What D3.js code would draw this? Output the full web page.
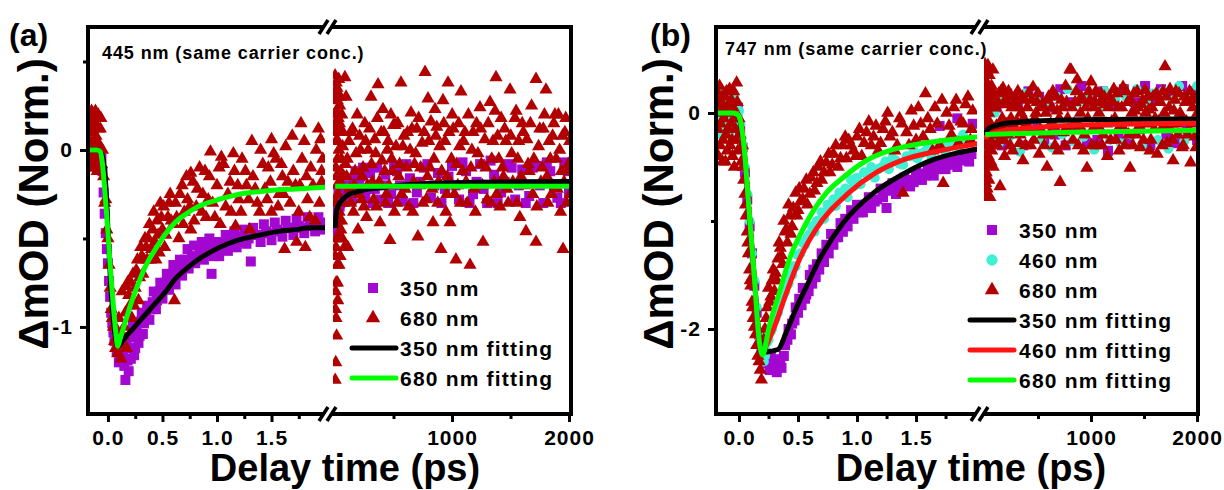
<!DOCTYPE html>
<html>
<head>
<meta charset="utf-8">
<script src="https://cdn.jsdelivr.net/npm/d3@7"></script>
<style>
body{margin:0;background:#fff}
svg{display:block;font-family:"Liberation Sans",Arial,sans-serif;font-weight:bold}
</style>
</head>
<body>
<svg id="chart" width="1224" height="490"></svg>
<script>
// ---- panel (a): 445 nm ----  [time (ps), dOD (norm.)]
var a350L = [[-0.17,-0.04],[-0.15,0.01],[-0.13,-0.06],[-0.11,-0.02],[-0.09,-0.08],[-0.07,-0.03],[-0.05,-0.12],[-0.04,-0.24],[-0.03,-0.36],[-0.02,-0.47],[-0.01,-0.56],[0.0,-0.64],[0.01,-0.74],[0.02,-0.83],[0.03,-0.92],[0.04,-0.98],[0.05,-1.03],[0.07,-1.08],[0.09,-1.12],[0.11,-1.16],[0.13,-1.1],[0.15,-1.22],[0.16,-1.3],[0.18,-1.19],[0.2,-1.12],[0.22,-1.06],[0.24,-1.16],[0.26,-1.02],[0.28,-1.09],[0.3,-0.97],[0.32,-1.04],[0.35,-0.92],[0.38,-0.96],[0.41,-0.86],[0.44,-0.9],[0.47,-0.8],[0.5,-0.84],[0.53,-0.75],[0.56,-0.79],[0.59,-0.7],[0.62,-0.76],[0.65,-0.66],[0.68,-0.71],[0.71,-0.62],[0.74,-0.67],[0.77,-0.6],[0.8,-0.64],[0.84,-0.57],[0.88,-0.62],[0.92,-0.55],[0.95,-0.7],[0.98,-0.55],[1.02,-0.6],[1.06,-0.52],[1.1,-0.57],[1.14,-0.5],[1.18,-0.55],[1.22,-0.49],[1.27,-0.53],[1.31,-0.63],[1.35,-0.48],[1.4,-0.52],[1.45,-0.46],[1.5,-0.51],[1.55,-0.45],[1.6,-0.49],[1.65,-0.44],[1.7,-0.48],[1.75,-0.43],[1.8,-0.47],[1.85,-0.42],[1.9,-0.46],[1.95,-0.41],[1.97,-0.45],
  [-0.16,-0.08],[-0.12,0.0],[-0.08,-0.1],[-0.06,-0.05],[0.06,-1.08],[0.08,-1.14],[0.1,-1.2],[0.12,-1.18],[0.14,-1.14],[0.17,-1.1],[0.19,-1.25],[0.21,-1.18],[0.23,-1.0],[0.25,-1.12],[0.27,-0.98],[0.29,-1.05],[0.31,-0.92],[0.33,-0.98],[0.36,-0.88],[0.39,-0.9],[0.42,-0.8],[0.45,-0.85],[0.48,-0.75],[0.51,-0.78],[0.54,-0.7],[0.57,-0.73],[0.6,-0.65],[0.63,-0.7],[0.66,-0.62],[0.7,-0.66],[0.73,-0.56],[0.76,-0.62],[0.79,-0.54],[0.83,-0.6],[0.86,-0.52],[0.9,-0.58],[0.93,-0.5],[0.97,-0.6],[1.0,-0.52],[1.04,-0.56],[1.08,-0.48],[1.12,-0.54],[1.16,-0.46],[1.2,-0.52],[1.25,-0.45],[1.29,-0.5],[1.33,-0.44],[1.38,-0.48],[1.43,-0.42],[1.48,-0.47],[1.53,-0.41],[1.58,-0.46],[1.63,-0.4],[1.68,-0.44],[1.73,-0.39],[1.78,-0.44],[1.83,-0.38],[1.88,-0.43],[1.93,-0.38]];
var a680L = [[-0.18,0.2],[-0.17,0.05],[-0.16,-0.1],[-0.15,0.22],[-0.14,0.12],[-0.13,-0.05],[-0.12,0.15],[-0.11,0.08],[-0.1,-0.12],[-0.09,0.2],[-0.08,0.03],[-0.07,0.12],[-0.06,-0.08],[-0.05,0.0],[-0.04,-0.15],[-0.03,-0.3],[-0.02,-0.28],[-0.01,-0.45],[0.0,-0.5],[0.01,-0.65],[0.02,-0.78],[0.03,-0.9],[0.04,-0.95],[0.05,-1.0],[0.06,-1.08],[0.07,-1.12],[0.09,-1.15],[0.1,-0.95],[0.12,-1.18],[0.13,-0.8],[0.14,-1.05],[0.16,-0.92],[0.165,-0.77],[0.17,-1.12],[0.18,-0.75],[0.2,-0.88],[0.22,-0.95],[0.23,-0.7],[0.25,-0.78],[0.27,-0.62],[0.28,-0.85],[0.3,-0.55],[0.32,-0.7],[0.34,-0.5],[0.36,-0.62],[0.38,-0.42],[0.4,-0.56],[0.42,-0.35],[0.44,-0.62],[0.46,-0.48],[0.48,-0.3],[0.5,-0.45],[0.52,-0.55],[0.55,-0.38],[0.57,-0.25],[0.6,-0.42],[0.61,-0.85],[0.62,-0.3],[0.65,-0.5],[0.68,-0.2],[0.7,-0.35],[0.73,-0.28],[0.76,-0.45],[0.76,-0.13],[0.78,-0.18],[0.81,-0.32],[0.84,-0.1],[0.87,-0.25],[0.9,-0.38],[0.93,-0.15],[0.94,-0.01],[0.96,-0.3],[1.0,-0.2],[1.03,-0.42],[1.04,-0.04],[1.06,-0.08],[1.1,-0.25],[1.13,-0.35],[1.16,-0.12],[1.17,-0.43],[1.2,-0.28],[1.23,-0.05],[1.27,-0.2],[1.3,-0.45],[1.33,-0.15],[1.37,-0.3],[1.4,0.0],[1.44,-0.22],[1.47,-0.1],[1.5,0.06],[1.5,-0.35],[1.54,-0.05],[1.57,-0.25],[1.6,-0.15],[1.62,-0.56],[1.63,0.02],[1.67,-0.3],[1.7,-0.12],[1.73,-0.52],[1.76,-0.2],[1.77,0.15],[1.8,0.05],[1.81,-0.55],[1.83,-0.28],[1.86,-0.1],[1.9,-0.4],[1.93,0.12],[1.95,0.06],[1.96,-0.18],[1.97,-0.05],
  [-0.175,0.1],[-0.165,-0.02],[-0.155,0.15],[-0.145,0.0],[-0.135,0.2],[-0.125,-0.1],[-0.115,0.22],[-0.105,0.05],[-0.095,-0.05],[-0.085,0.12],[-0.075,-0.12],[-0.065,0.18],[0.085,-1.02],[0.11,-1.1],[0.15,-1.0],[0.19,-0.82],[0.21,-0.75],[0.24,-0.88],[0.26,-0.68],[0.29,-0.72],[0.31,-0.6],[0.33,-0.62],[0.35,-0.55],[0.37,-0.5],[0.39,-0.62],[0.41,-0.45],[0.43,-0.52],[0.45,-0.4],[0.47,-0.58],[0.49,-0.38],[0.51,-0.32],[0.53,-0.48],[0.56,-0.3],[0.58,-0.4],[0.63,-0.38],[0.66,-0.25],[0.69,-0.42],[0.72,-0.15],[0.75,-0.32],[0.79,-0.4],[0.82,-0.22],[0.86,-0.35],[0.89,-0.12],[0.92,-0.28],[0.98,-0.38],[1.02,-0.1],[1.08,-0.32],[1.12,-0.18],[1.15,-0.02],[1.19,-0.2],[1.22,-0.35],[1.26,-0.12],[1.29,-0.28],[1.32,0.05],[1.35,-0.22],[1.39,-0.35],[1.42,-0.08],[1.46,-0.28],[1.49,-0.18],[1.52,-0.02],[1.56,-0.32],[1.59,-0.08],[1.61,-0.25],[1.65,-0.18],[1.69,0.08],[1.72,-0.2],[1.75,-0.35],[1.78,-0.05],[1.82,-0.15],[1.85,-0.38],[1.88,-0.2],[1.91,0.0],[1.94,-0.3],[1.96,-0.12]];
var a350R = [[2,-0.42],[5,-0.38],[8,-0.46],[12,-0.33],[16,-0.4],[20,-0.3],[26,-0.35],[32,-0.27],[40,-0.32],[50,-0.24],[60,-0.29],[75,-0.22],[90,-0.27],[110,-0.2],[130,-0.25],[160,-0.17],[190,-0.24],[220,-0.15],[260,-0.27],[300,-0.13],[340,-0.22],[380,-0.28],[430,-0.14],[480,-0.25],[530,-0.12],[580,-0.29],[640,-0.16],[700,-0.24],[760,-0.1],[820,-0.27],[880,-0.13],[940,-0.22],[1000,-0.09],[1060,-0.28],[1120,-0.12],[1180,-0.25],[1240,-0.08],[1300,-0.3],[1360,-0.14],[1420,-0.24],[1480,-0.08],[1540,-0.28],[1600,-0.11],[1660,-0.26],[1720,-0.09],[1780,-0.3],[1840,-0.12],[1900,-0.27],[1960,-0.07],[2000,-0.24],
  [3,-0.36],[10,-0.42],[14,-0.3],[22,-0.38],[30,-0.25],[45,-0.3],[55,-0.2],[68,-0.26],[100,-0.22],[145,-0.28],[175,-0.12],[205,-0.2],[240,-0.1],[280,-0.22],[320,-0.3],[360,-0.1],[405,-0.2],[455,-0.3],[505,-0.09],[555,-0.2],[610,-0.08],[670,-0.3],[730,-0.18],[790,-0.08],[850,-0.2],[910,-0.3],[970,-0.15],[1030,-0.2],[1090,-0.07],[1150,-0.3],[1210,-0.18],[1270,-0.22],[1330,-0.06],[1390,-0.3],[1450,-0.18],[1510,-0.1],[1570,-0.2],[1630,-0.3],[1690,-0.1],[1750,-0.2],[1810,-0.07],[1870,-0.2],[1930,-0.3],[1990,-0.12]];
var a680R = [[1,0.42],[2,-1.3],[3,0.2],[4,-0.9],[5,-0.3],[6,0.33],[7,-1.2],[8,-0.55],[9,0.05],[10,-0.75],[11,0.38],[12,-0.15],[14,-1.05],[15,0.12],[16,-0.42],[18,-0.65],[20,0.28],[22,-0.05],[24,-0.85],[26,-0.25],[28,0.18],[30,-0.5],[33,0.0],[36,-0.35],[40,0.25],[44,-0.6],[48,-0.12],[52,0.1],[56,-0.4],[60,-0.2],[65,0.02],[70,-0.3],[80,-0.55],[85,0.41],[90,-0.08],
  [1.5,-0.6],[2.5,0.1],[3.5,-0.4],[4.5,0.3],[5.5,-0.8],[6.5,-0.1],[7.5,0.15],[8.5,-0.3],[9.5,-0.95],[10.5,0.22],[13,-0.5],[17,0.35],[19,-0.2],[21,-0.75],[25,0.05],[29,-0.4],[32,0.4],[35,-0.65],[38,0.15],[42,-0.2],[46,0.3],[50,-0.45],[54,-0.05],[58,0.2],[62,-0.5],[68,0.1],[75,-0.15],[95,0.3],
  [100,-0.15],[110,-0.55],[120,0.05],[135,-0.3],[150,0.12],[165,-0.2],[180,-0.02],[197,-0.45],[210,0.08],[225,-0.28],[240,-0.1],[255,0.15],[270,-0.38],[285,0.0],[308,0.3],[320,-0.18],[340,0.06],[355,-0.32],[368,0.37],[385,-0.41],[395,0.1],[410,0.23],[425,-0.12],[440,-0.25],[455,0.05],[470,-0.51],[485,-0.05],[500,0.14],[513,0.14],[530,-0.3],[545,-0.15],[564,0.38],[580,0.02],[600,-0.22],[620,0.1],[650,0.21],[665,-0.35],[680,-0.08],[700,0.12],[709,-0.49],[725,-0.2],[745,0.04],[770,0.44],[780,-0.28],[795,0.29],[810,-0.1],[838,-0.41],[855,0.23],[870,0.13],[885,-0.18],[906,-0.56],[923,0.28],[940,0.05],[955,-0.25],[966,0.38],[983,-0.41],[995,-0.05],[1010,0.12],[1034,-0.62],[1050,-0.2],[1065,0.02],[1077,0.33],[1090,-0.12],[1110,0.1],[1130,-0.3],[1154,-0.65],[1170,0.0],[1190,-0.22],[1210,0.15],[1239,0.24],[1250,-0.08],[1265,-0.52],[1280,0.06],[1300,-0.28],[1325,0.27],[1340,-0.05],[1360,-0.18],[1376,0.41],[1390,0.08],[1410,-0.32],[1430,-0.1],[1450,0.12],[1470,-0.22],[1496,0.34],[1510,-0.02],[1538,0.18],[1555,-0.3],[1570,0.05],[1590,-0.15],[1610,0.1],[1632,-0.46],[1650,-0.08],[1670,0.15],[1690,-0.25],[1718,0.4],[1718,-0.52],[1740,0.02],[1760,-0.18],[1780,0.12],[1803,0.34],[1820,-0.3],[1840,-0.05],[1860,0.08],[1880,0.2],[1900,-0.22],[1920,0.0],[1935,-0.12],[1949,-0.56],[1965,0.1],[1980,-0.3],[1995,-0.08],[2005,0.05],
  [105,-0.05],[125,-0.22],[140,0.1],[158,-0.35],[172,-0.12],[190,0.2],[205,-0.25],[218,0.0],[232,-0.15],[248,-0.32],[262,0.05],[278,-0.2],[295,0.12],[312,-0.08],[330,-0.28],[348,-0.02],[362,0.18],[378,-0.18],[402,-0.06],[418,0.1],[432,-0.3],[448,0.0],[462,-0.2],[478,0.2],[492,-0.12],[508,-0.35],[522,0.02],[538,0.15],[552,-0.08],[570,-0.25],[590,0.08],[610,-0.1],[630,-0.32],[642,0.0],[658,0.12],[672,-0.18],[690,-0.02],[715,0.18],[732,-0.1],[752,-0.3],[762,0.1],[790,-0.15],[802,0.05],[820,0.16],[830,-0.22],[846,-0.05],[862,0.08],[878,-0.3],[895,0.02],[912,-0.12],[930,0.15],[948,-0.35],[960,-0.15],[975,0.1],[1002,0.2],[1020,-0.25],[1040,-0.08],[1058,0.15],[1072,-0.3],[1098,0.05],[1120,-0.18],[1140,0.2],[1162,-0.1],[1180,0.1],[1200,-0.35],[1222,-0.02],[1245,0.12],[1260,-0.2],[1290,-0.1],[1310,0.15],[1332,-0.3],[1350,0.05],[1368,0.22],[1382,-0.25],[1400,-0.05],[1420,0.18],[1440,-0.15],[1460,0.05],[1480,-0.3],[1502,0.08],[1520,-0.18],[1548,0.22],[1562,-0.05],[1580,-0.38],[1600,0.15],[1620,-0.2],[1640,0.06],[1660,-0.12],[1680,0.25],[1700,-0.05],[1725,-0.32],[1750,0.12],[1770,-0.1],[1790,0.2],[1812,-0.15],[1830,0.05],[1850,-0.25],[1870,0.15],[1890,-0.05],[1910,0.2],[1928,-0.35],[1945,0.08],[1958,-0.18],[1972,0.18],[1990,-0.12],[2010,-0.25]];
var a350fitL = [[-0.183,0],[-0.1,0],[-0.06,-0.02],[-0.04,-0.07],[-0.02,-0.2],[0.0,-0.45],[0.02,-0.7],[0.045,-0.92],[0.07,-1.06],[0.09,-1.11],[0.12,-1.09],[0.17,-1.05],[0.23,-1.01],[0.3,-0.96],[0.43,-0.87],[0.53,-0.8],[0.615,-0.73],[0.72,-0.67],[0.825,-0.62],[0.96,-0.57],[1.1,-0.53],[1.25,-0.5],[1.4,-0.48],[1.56,-0.46],[1.72,-0.45],[1.86,-0.44],[2.0,-0.44]];
var a680fitL = [[-0.183,0],[-0.1,0],[-0.07,-0.01],[-0.05,-0.08],[-0.03,-0.22],[-0.01,-0.38],[0.0,-0.47],[0.02,-0.65],[0.045,-0.85],[0.07,-1.02],[0.09,-1.11],[0.11,-1.07],[0.155,-0.98],[0.21,-0.87],[0.275,-0.76],[0.35,-0.65],[0.43,-0.565],[0.52,-0.48],[0.615,-0.41],[0.72,-0.36],[0.825,-0.32],[0.96,-0.29],[1.1,-0.265],[1.25,-0.245],[1.4,-0.235],[1.56,-0.225],[1.72,-0.22],[1.86,-0.215],[2.0,-0.21]];
var a350fitR = [[2,-0.44],[6,-0.4],[12,-0.35],[25,-0.32],[51,-0.29],[80,-0.27],[120,-0.25],[171,-0.24],[250,-0.225],[368,-0.215],[550,-0.2],[795,-0.19],[1200,-0.183],[1600,-0.18],[2017,-0.178]];
var a680fitR = [[2,-0.205],[500,-0.205],[1000,-0.205],[2017,-0.205]];

// ---- panel (b): 747 nm ----
var b350L = [[-0.19,0.1],[-0.17,-0.05],[-0.15,0.2],[-0.13,0.02],[-0.11,-0.12],[-0.09,0.15],[-0.07,-0.02],[-0.05,0.08],[-0.03,-0.1],[-0.01,0.05],[0.01,-0.15],[0.03,-0.32],[0.05,-0.55],[0.07,-0.8],[0.09,-1.05],[0.11,-1.3],[0.13,-1.6],[0.15,-1.85],[0.17,-2.05],[0.19,-2.2],[0.21,-2.28],[0.24,-2.3],[0.27,-2.25],[0.3,-2.35],[0.33,-2.28],[0.36,-2.36],[0.39,-2.15],[0.42,-2.0],[0.45,-1.95],[0.48,-1.8],[0.51,-1.72],[0.54,-1.62],[0.57,-1.68],[0.6,-1.5],[0.63,-1.45],[0.66,-1.4],[0.7,-1.3],[0.74,-1.22],[0.78,-1.12],[0.82,-1.15],[0.86,-1.02],[0.9,-0.98],[0.95,-0.9],[1.0,-0.85],[1.05,-0.92],[1.1,-0.78],[1.15,-0.82],[1.2,-0.7],[1.25,-0.88],[1.3,-0.65],[1.35,-0.7],[1.4,-0.6],[1.45,-0.68],[1.5,-0.55],[1.55,-0.62],[1.6,-0.5],[1.65,-0.58],[1.7,-0.45],[1.75,-0.52],[1.8,-0.42],[1.85,-0.5],[1.9,-0.38],[1.95,-0.45],[1.98,-0.1],[1.7,-0.12],[1.85,-0.05],
  [0.22,-2.32],[0.26,-2.38],[0.29,-2.3],[0.32,-2.4],[0.35,-2.3],[0.38,-2.25],[0.41,-2.1],[0.44,-2.05],[0.47,-1.92],[0.5,-1.85],[0.53,-1.78],[0.56,-1.72],[0.59,-1.65],[0.62,-1.58],[0.65,-1.52],[0.68,-1.45],[0.72,-1.38],[0.76,-1.3],[0.8,-1.22],[0.84,-1.15],[0.88,-1.1],[0.92,-1.05],[0.97,-0.98],[1.02,-0.92],[1.07,-0.85],[1.12,-0.88],[1.17,-0.8],[1.22,-0.78],[1.28,-0.72],[1.33,-0.75],[1.38,-0.66],[1.43,-0.62],[1.48,-0.64],[1.53,-0.56],[1.58,-0.58],[1.63,-0.5],[1.68,-0.52],[1.73,-0.46],[1.78,-0.48],[1.83,-0.42],[1.88,-0.44],[1.93,-0.4],[1.97,-0.38]];
var b460L = [[-0.19,-0.08],[-0.17,0.12],[-0.15,-0.2],[-0.13,0.05],[-0.11,0.15],[-0.09,-0.1],[-0.07,0.08],[-0.05,-0.05],[-0.03,0.1],[-0.01,-0.02],[0.01,-0.1],[0.03,-0.3],[0.05,-0.5],[0.07,-0.75],[0.09,-1.0],[0.11,-1.3],[0.13,-1.55],[0.15,-1.8],[0.17,-2.05],[0.19,-2.25],[0.21,-2.3],[0.23,-2.2],[0.25,-2.1],[0.28,-2.0],[0.31,-1.9],[0.34,-1.78],[0.37,-1.7],[0.4,-1.6],[0.43,-1.5],[0.46,-1.42],[0.5,-1.32],[0.54,-1.2],[0.58,-1.15],[0.62,-1.05],[0.66,-1.0],[0.7,-0.92],[0.75,-0.85],[0.8,-0.8],[0.85,-0.74],[0.9,-0.7],[0.95,-0.62],[1.0,-0.6],[1.06,-0.55],[1.12,-0.5],[1.18,-0.52],[1.24,-0.45],[1.3,-0.42],[1.36,-0.47],[1.42,-0.4],[1.48,-0.35],[1.54,-0.38],[1.6,-0.3],[1.66,-0.34],[1.72,-0.28],[1.78,-0.3],[1.84,-0.25],[1.9,-0.2],[1.96,-0.27],
  [-0.18,0.05],[-0.16,-0.05],[-0.14,0.2],[-0.12,-0.12],[-0.1,0.1],[-0.08,-0.2],[-0.06,0.0],[-0.04,0.15],[-0.02,-0.1],[0.0,0.02],[0.2,-2.2],[0.22,-2.25],[0.24,-2.12],[0.27,-2.02],[0.3,-1.92],[0.33,-1.85],[0.36,-1.72],[0.39,-1.66],[0.42,-1.58],[0.45,-1.5],[0.48,-1.42],[0.52,-1.3],[0.56,-1.22],[0.6,-1.12],[0.64,-1.1],[0.68,-1.0],[0.72,-0.98],[0.77,-0.88],[0.82,-0.86],[0.87,-0.76],[0.92,-0.78],[0.97,-0.68],[1.03,-0.66],[1.09,-0.58],[1.15,-0.6],[1.21,-0.5],[1.27,-0.52],[1.33,-0.44],[1.39,-0.48],[1.45,-0.4],[1.51,-0.42],[1.57,-0.36],[1.63,-0.4],[1.69,-0.32],[1.75,-0.36],[1.81,-0.3],[1.87,-0.33],[1.93,-0.27]];
var b680L = [[-0.19,0.2],[-0.18,-0.15],[-0.17,0.05],[-0.16,-0.3],[-0.15,0.1],[-0.14,-0.45],[-0.13,-0.05],[-0.12,0.15],[-0.11,-0.2],[-0.1,-0.35],[-0.09,0.0],[-0.08,0.22],[-0.07,-0.1],[-0.06,-0.25],[-0.05,0.05],[-0.04,-0.5],[-0.03,-0.15],[-0.02,0.28],[-0.01,-0.35],[0.0,-0.05],[0.01,-0.2],[0.02,-0.45],[0.03,-0.3],[0.04,-0.62],[0.05,-0.75],[0.06,-0.95],[0.07,-1.1],[0.08,-1.3],[0.09,-1.45],[0.1,-1.6],[0.11,-1.75],[0.12,-1.9],[0.14,-2.05],[0.15,-2.15],[0.17,-2.3],[0.18,-2.38],[0.19,-2.47],[0.2,-2.2],[0.22,-2.0],[0.24,-1.8],[0.26,-1.75],[0.28,-1.55],[0.3,-1.65],[0.31,-1.48],[0.33,-1.35],[0.35,-1.25],[0.37,-1.4],[0.39,-1.1],[0.41,-1.2],[0.43,-0.95],[0.45,-1.05],[0.48,-0.74],[0.5,-0.9],[0.52,-0.82],[0.55,-0.7],[0.58,-0.85],[0.61,-0.6],[0.64,-0.72],[0.67,-0.5],[0.7,-0.62],[0.74,-0.46],[0.77,-0.55],[0.8,-0.38],[0.84,-0.5],[0.88,-0.3],[0.91,-0.42],[0.93,-0.25],[0.97,-0.35],[1.0,-0.22],[1.04,-0.4],[1.08,-0.18],[1.12,-0.3],[1.16,-0.12],[1.2,-0.28],[1.24,-0.08],[1.28,-0.22],[1.32,-0.35],[1.36,-0.05],[1.39,-0.74],[1.42,-0.18],[1.46,0.02],[1.5,-0.25],[1.54,-0.1],[1.58,0.18],[1.62,-0.15],[1.66,0.05],[1.7,-0.3],[1.73,-0.65],[1.76,0.0],[1.8,-0.2],[1.84,0.12],[1.88,-0.08],[1.92,0.08],[1.96,-0.25],[1.98,0.02],
  [-0.185,0.0],[-0.175,-0.4],[-0.165,0.25],[-0.155,-0.1],[-0.145,0.15],[-0.135,-0.25],[-0.125,0.05],[-0.115,-0.45],[-0.105,0.2],[-0.095,-0.15],[-0.085,0.08],[-0.075,-0.3],[-0.065,0.12],[-0.055,-0.4],[-0.045,0.2],[-0.035,-0.05],[-0.025,-0.25],[-0.015,0.1],[0.035,-0.5],[0.055,-0.85],[0.075,-1.2],[0.095,-1.55],[0.115,-1.8],[0.13,-1.98],[0.16,-2.25],[0.21,-2.1],[0.23,-1.9],[0.25,-1.62],[0.27,-1.7],[0.29,-1.45],[0.32,-1.55],[0.34,-1.2],[0.36,-1.32],[0.38,-1.0],[0.4,-1.08],[0.42,-0.85],[0.44,-1.12],[0.46,-0.88],[0.49,-0.95],[0.51,-0.7],[0.54,-0.8],[0.57,-0.62],[0.6,-0.75],[0.63,-0.55],[0.66,-0.65],[0.69,-0.45],[0.72,-0.55],[0.76,-0.38],[0.79,-0.48],[0.82,-0.3],[0.86,-0.42],[0.9,-0.22],[0.95,-0.3],[0.99,-0.4],[1.02,-0.15],[1.06,-0.28],[1.1,-0.08],[1.14,-0.22],[1.18,-0.35],[1.22,-0.15],[1.26,0.0],[1.3,-0.18],[1.34,-0.3],[1.38,-0.1],[1.44,-0.3],[1.48,-0.12],[1.52,0.05],[1.56,-0.22],[1.6,-0.05],[1.64,-0.35],[1.68,-0.1],[1.72,0.12],[1.78,-0.12],[1.82,0.05],[1.86,-0.28],[1.9,-0.1],[1.94,0.15],[1.97,-0.15]];
var b350R = [[2,0.15],[6,-0.3],[12,0.0],[25,-0.2],[45,0.1],[75,-0.25],[110,0.05],[160,-0.3],[210,0.18],[260,-0.15],[310,0.1],[360,-0.3],[410,0.2],[460,-0.1],[510,0.15],[560,-0.28],[610,0.05],[660,-0.2],[710,0.22],[760,-0.3],[810,0.1],[860,-0.15],[910,0.25],[960,-0.28],[1010,0.12],[1060,-0.25],[1110,0.2],[1160,-0.35],[1210,0.08],[1260,-0.2],[1310,0.22],[1360,-0.28],[1410,0.1],[1460,-0.15],[1510,0.25],[1560,-0.3],[1610,0.12],[1660,0.22],[1710,-0.2],[1760,0.18],[1810,-0.28],[1860,0.25],[1910,-0.15],[1960,0.2],[2000,-0.25]];
var b460R = [[2,0.2],[5,-0.3],[10,0.05],[20,-0.2],[35,0.12],[60,-0.25],[90,0.0],[130,-0.28],[180,0.15],[230,-0.22],[280,0.08],[330,-0.36],[380,0.18],[430,-0.15],[480,0.12],[530,-0.25],[580,0.05],[630,-0.32],[680,0.15],[730,-0.2],[780,0.22],[830,-0.26],[880,0.1],[930,-0.22],[980,0.18],[1030,-0.34],[1080,0.05],[1130,0.2],[1180,-0.25],[1230,0.12],[1280,-0.28],[1330,0.15],[1380,-0.2],[1430,0.22],[1480,-0.3],[1530,0.08],[1580,0.18],[1630,-0.25],[1680,0.2],[1730,-0.33],[1780,0.12],[1830,0.25],[1880,-0.26],[1930,0.15],[1980,-0.2],[2000,0.25]];
var b680R = [[1,0.45],[2,-0.78],[3,0.1],[4,-0.45],[5,0.3],[6,-0.2],[7,-0.65],[8,0.2],[10,-0.05],[12,-0.55],[14,0.35],[16,-0.3],[18,0.05],[20,-0.7],[23,0.18],[26,-0.15],[28,0.44],[30,-0.4],[34,0.0],[38,-0.25],[42,0.12],[47,-0.78],[52,-0.1],[58,0.22],[64,-0.35],[70,0.05],[78,-0.5],[85,0.15],[92,-0.2],
  [1.5,-0.3],[2.5,0.35],[3.5,-0.55],[4.5,0.0],[5.5,-0.72],[6.5,0.4],[7.5,-0.1],[9,0.28],[11,-0.38],[13,0.12],[15,-0.6],[17,0.25],[19,-0.15],[22,0.4],[25,-0.48],[32,0.2],[36,-0.62],[40,0.35],[45,-0.2],[50,0.1],[55,-0.45],[62,0.25],[68,-0.15],[75,0.4],[82,-0.3],[88,0.05],
  [100,0.05],[115,-0.3],[130,0.18],[142,-0.68],[155,-0.12],[170,0.23],[185,-0.4],[200,0.08],[215,-0.2],[230,0.15],[245,-0.05],[260,-0.35],[275,0.1],[290,-0.15],[310,0.2],[325,-0.28],[340,0.0],[358,-0.44],[375,0.12],[390,-0.1],[410,0.18],[430,-0.3],[453,0.24],[470,-0.05],[490,0.1],[510,-0.38],[530,0.05],[550,-0.2],[585,-0.5],[600,0.15],[620,-0.1],[640,0.2],[660,-0.3],[680,0.02],[708,-0.64],[720,0.12],[740,-0.18],[760,0.25],[780,-0.05],[800,0.4],[811,0.4],[830,-0.25],[850,0.1],[870,0.31],[890,-0.12],[910,0.15],[930,-0.35],[950,0.05],[962,-0.51],[980,0.2],[1000,0.29],[1015,-0.15],[1035,0.1],[1055,-0.3],[1075,0.0],[1095,0.18],[1115,-0.2],[1135,0.08],[1155,-0.4],[1175,0.15],[1195,-0.08],[1215,0.22],[1235,-0.25],[1255,0.05],[1275,-0.12],[1302,0.24],[1320,-0.3],[1345,0.1],[1368,-0.51],[1385,0.0],[1405,0.18],[1425,-0.2],[1445,0.05],[1465,-0.32],[1485,0.12],[1509,0.21],[1525,-0.1],[1545,0.03],[1565,-0.25],[1585,0.15],[1605,-0.05],[1625,-0.38],[1645,0.1],[1665,-0.15],[1680,0.2],[1698,0.43],[1715,-0.28],[1735,0.05],[1755,-0.1],[1774,-0.44],[1790,0.12],[1800,0.2],[1820,-0.2],[1840,0.0],[1860,-0.32],[1880,0.15],[1900,-0.08],[1920,0.1],[1940,-0.46],[1960,0.05],[1980,-0.22],[2000,0.12],
  [108,-0.12],[122,0.1],[138,-0.25],[150,0.2],[162,-0.05],[178,-0.25],[192,0.12],[208,-0.1],[222,0.2],[238,-0.3],[252,0.05],[268,-0.18],[282,0.15],[300,-0.08],[318,0.05],[332,-0.2],[350,0.15],[365,-0.05],[382,-0.3],[400,0.05],[420,-0.15],[440,0.12],[460,-0.25],[480,0.0],[500,0.18],[520,-0.15],[540,0.08],[560,-0.3],[575,0.0],[592,0.12],[610,-0.2],[630,0.05],[650,-0.12],[670,0.15],[690,-0.35],[700,-0.05],[730,0.05],[750,-0.3],[770,0.1],[790,-0.15],[820,0.05],[840,-0.1],[860,0.2],[880,-0.3],[900,0.0],[920,0.12],[940,-0.2],[970,-0.05],[990,0.12],[1008,-0.3],[1025,0.05],[1045,0.2],[1065,-0.12],[1085,0.1],[1105,-0.3],[1125,0.15],[1145,-0.1],[1165,0.05],[1185,-0.25],[1205,0.1],[1225,-0.05],[1245,0.18],[1265,-0.35],[1290,0.05],[1310,-0.15],[1330,0.2],[1355,-0.2],[1375,0.12],[1395,-0.3],[1415,0.02],[1435,0.2],[1455,-0.12],[1475,0.08],[1495,-0.25],[1515,0.0],[1535,0.15],[1555,-0.35],[1575,0.05],[1595,-0.15],[1615,0.18],[1635,-0.08],[1655,0.1],[1672,-0.3],[1690,0.0],[1710,0.15],[1725,-0.12],[1745,0.22],[1765,-0.25],[1782,0.02],[1810,-0.1],[1830,0.18],[1850,-0.05],[1870,-0.3],[1890,0.1],[1910,-0.2],[1930,0.2],[1950,-0.1],[1970,0.15],[1990,-0.32],[2005,0.0]];
var b350fitL = [[-0.195,0],[-0.05,0],[-0.02,-0.01],[0.0,-0.04],[0.02,-0.15],[0.04,-0.32],[0.085,-0.92],[0.13,-1.54],[0.17,-2.06],[0.2,-2.19],[0.23,-2.21],[0.33,-2.19],[0.4,-2.03],[0.48,-1.82],[0.57,-1.61],[0.68,-1.36],[0.88,-1.02],[1.14,-0.74],[1.4,-0.56],[1.64,-0.435],[1.85,-0.37],[2.04,-0.33]];
var b460fitL = [[-0.195,0],[-0.05,0],[-0.02,-0.01],[0.0,-0.03],[0.02,-0.12],[0.04,-0.3],[0.085,-0.9],[0.13,-1.52],[0.17,-2.08],[0.2,-2.22],[0.22,-2.18],[0.3,-1.98],[0.4,-1.67],[0.51,-1.36],[0.65,-1.08],[0.93,-0.74],[1.15,-0.56],[1.39,-0.435],[1.7,-0.35],[2.04,-0.28]];
var b680fitL = [[-0.195,0],[-0.05,0],[-0.02,-0.01],[0.0,-0.03],[0.02,-0.12],[0.04,-0.28],[0.085,-0.9],[0.13,-1.52],[0.17,-2.1],[0.2,-2.24],[0.255,-1.98],[0.34,-1.67],[0.425,-1.36],[0.54,-1.08],[0.74,-0.74],[0.88,-0.6],[1.08,-0.44],[1.3,-0.34],[1.56,-0.28],[1.8,-0.245],[2.04,-0.22]];
var b350fitR = [[2,-0.22],[10,-0.18],[40,-0.14],[123,-0.11],[311,-0.085],[600,-0.07],[1100,-0.06],[2009,-0.055]];
var b460fitR = [[2,-0.24],[20,-0.21],[100,-0.18],[300,-0.15],[600,-0.125],[1000,-0.11],[1500,-0.1],[2009,-0.095]];
var b680fitR = [[2,-0.2],[500,-0.185],[1000,-0.175],[2009,-0.16]];

// ticks and labels
var shortMajor = [0, 0.5, 1.0, 1.5];
var shortMinor = [0.25, 0.75, 1.25, 1.75];
var longMajor = [1000, 2000];
var longMinor = [500, 1500];
var legendA = ["350 nm", "680 nm", "350 nm fitting", "680 nm fitting"];
var legendB = ["350 nm", "460 nm", "680 nm", "350 nm fitting", "460 nm fitting", "680 nm fitting"];

var PURPLE = "#a208cf", CYAN = "#3ff0d2", WINE = "#b20000";
var BLACK = "#000", RED = "#ff1414", GREEN = "#00ff00";

var svg = d3.select("#chart");
var defs = svg.append("defs");

function styleText(sel, size, spacing){
	sel.style("font-family", '"Liberation Sans",Arial,sans-serif')
		.style("font-weight", "bold")
		.style("font-size", size + "px")
		.style("letter-spacing", spacing + "px")
		.attr("fill", "#000");
}

function drawPanel(p, scat, fits, leg){
	var xl = d3.scaleLinear().domain(p.leftDom).range(p.leftRange);
	var xr = d3.scaleLinear().domain(p.rightDom).range(p.rightRange);
	var y = d3.scaleLinear().domain(p.yDom).range([p.B, p.T]);
	var g = svg.append("g");

	defs.append("clipPath").attr("id", p.id + "L").append("rect")
		.attr("x", p.clipL[0]).attr("y", p.T).attr("width", p.clipL[1] - p.clipL[0]).attr("height", p.B - p.T);
	defs.append("clipPath").attr("id", p.id + "R").append("rect")
		.attr("x", p.clipR[0]).attr("y", p.T).attr("width", p.clipR[1] - p.clipR[0]).attr("height", p.B - p.T);

	var gl = g.append("g").attr("clip-path", "url(#" + p.id + "L)");
	var gr = g.append("g").attr("clip-path", "url(#" + p.id + "R)");

	scat.forEach(function(s){
		var sym = d3.symbol().type(s.shape).size(s.size);
		gl.selectAll(null).data(s.left).enter().append("path")
			.attr("d", sym)
			.attr("transform", function(d){ return "translate(" + xl(d[0]) + "," + y(d[1]) + ")"; })
			.attr("fill", s.color);
		gr.selectAll(null).data(s.right).enter().append("path")
			.attr("d", sym)
			.attr("transform", function(d){ return "translate(" + xr(d[0]) + "," + y(d[1]) + ")"; })
			.attr("fill", s.color);
	});

	var lineL = d3.line().x(function(d){ return xl(d[0]); }).y(function(d){ return y(d[1]); }).curve(d3.curveMonotoneX);
	var lineR = d3.line().x(function(d){ return xr(d[0]); }).y(function(d){ return y(d[1]); }).curve(d3.curveMonotoneX);
	fits.forEach(function(f){
		gl.append("path").datum(f.left).attr("d", lineL)
			.attr("fill", "none").attr("stroke", f.color).attr("stroke-width", 5);
		gr.append("path").datum(f.right).attr("d", lineR)
			.attr("fill", "none").attr("stroke", f.color).attr("stroke-width", 5);
	});

	// axes
	var ax = g.append("g").attr("transform", "translate(" + p.L + ",0)")
		.call(d3.axisLeft(y).tickValues(p.yMaj).tickSize(8).tickPadding(7).tickFormat(function(d){ return String(d); }));
	ax.append("g").call(d3.axisLeft(y).tickValues(p.yMin).tickSize(5).tickFormat(""));
	var bx = g.append("g").attr("transform", "translate(0," + p.B + ")");
	bx.append("g").call(d3.axisBottom(xl).tickValues(shortMajor).tickSize(8).tickPadding(8).tickFormat(function(d){ return d.toFixed(1); }));
	bx.append("g").call(d3.axisBottom(xl).tickValues(shortMinor).tickSize(5).tickFormat(""));
	bx.append("g").call(d3.axisBottom(xr).tickValues(longMajor).tickSize(8).tickPadding(8).tickFormat(function(d){ return String(d); }));
	bx.append("g").call(d3.axisBottom(xr).tickValues(longMinor).tickSize(5).tickFormat(""));
	g.selectAll(".domain").remove();
	g.selectAll(".tick line").attr("stroke", "#000").attr("stroke-width", 3);
	styleText(g.selectAll(".tick text"), 21, 1);

	// frame with break marks
	g.append("rect").attr("x", p.L).attr("y", p.T).attr("width", p.R - p.L).attr("height", p.B - p.T)
		.attr("fill", "none").attr("stroke", "#000").attr("stroke-width", 4);
	[p.T, p.B].forEach(function(yy){
		var b = p.brk;
		g.append("polygon")
			.attr("points", [[b - 9, yy + 7], [b, yy - 7], [b + 8, yy - 7], [b - 1, yy + 7]].join(" "))
			.attr("fill", "#fff");
		g.append("path").attr("d", "M" + (b - 9) + "," + (yy + 7) + "L" + b + "," + (yy - 7) +
			"M" + (b - 1) + "," + (yy + 7) + "L" + (b + 8) + "," + (yy - 7))
			.attr("stroke", "#000").attr("stroke-width", 3.5).attr("fill", "none");
	});

	// titles
	styleText(g.append("text").attr("x", p.tagX).attr("y", 46).text(p.tag), 32, 0);
	styleText(g.append("text").attr("x", p.noteX).attr("y", p.noteY).text(p.note), 18, 0.9);
	styleText(g.append("text").attr("transform", "translate(" + p.yTitleX + ",204) rotate(-90)")
		.attr("text-anchor", "middle").text("\u0394mOD (Norm.)"), 42, 0);
	styleText(g.append("text").attr("x", p.xTitleX).attr("y", 481)
		.attr("text-anchor", "middle").text("Delay time (ps)"), 38, 0);

	// legend
	var lg = g.append("g");
	leg.items.forEach(function(it, i){
		var yy = leg.y0 + i * 30;
		if (it.shape) {
			lg.append("path").attr("d", d3.symbol().type(it.shape).size(it.size))
				.attr("transform", "translate(" + leg.symX + "," + yy + ")").attr("fill", it.color);
		} else {
			lg.append("line").attr("x1", leg.lineX[0]).attr("x2", leg.lineX[1]).attr("y1", yy).attr("y2", yy)
				.attr("stroke", it.color).attr("stroke-width", 5).attr("stroke-linecap", "round");
		}
		styleText(lg.append("text").attr("x", leg.textX).attr("y", yy + 7.5).text(leg.labels[i]), 21, 1.2);
	});
}

var SQ = d3.symbolSquare, TRI = d3.symbolTriangle, CIR = d3.symbolCircle;

drawPanel({
	id: "pa", L: 88, R: 571, T: 27, B: 414, brk: 328,
	leftDom: [-0.183, 2.018], leftRange: [88, 328],
	rightDom: [-51, 2017], rightRange: [329, 571],
	clipL: [88, 325], clipR: [333, 571],
	yDom: [-1.492, 0.695], yMaj: [0, -1], yMin: [0.5, -0.5],
	tag: "(a)", tagX: 9, note: "445 nm (same carrier conc.)", noteX: 102, noteY: 59,
	yTitleX: 48, xTitleX: 345
}, [
	{left: a350L, right: a350R, color: PURPLE, shape: SQ, size: 100},
	{left: a680L, right: a680R, color: WINE, shape: TRI, size: 75}
], [
	{left: a350fitL, right: a350fitR, color: BLACK},
	{left: a680fitL, right: a680fitR, color: GREEN}
], {
	labels: legendA, y0: 288, symX: 373, lineX: [352, 396], textX: 400,
	items: [{shape: SQ, size: 100, color: PURPLE}, {shape: TRI, size: 90, color: WINE}, {color: BLACK}, {color: GREEN}]
});

drawPanel({
	id: "pb", L: 716, R: 1198, T: 27, B: 414, brk: 980,
	leftDom: [-0.195, 2.042], leftRange: [716, 980],
	rightDom: [-47, 2009], rightRange: [980, 1198],
	clipL: [716, 977], clipR: [984, 1198],
	yDom: [-2.787, 0.796], yMaj: [0, -2], yMin: [-1],
	tag: "(b)", tagX: 650, note: "747 nm (same carrier conc.)", noteX: 725, noteY: 55,
	yTitleX: 673, xTitleX: 971
}, [
	{left: b350L, right: b350R, color: PURPLE, shape: SQ, size: 100},
	{left: b460L, right: b460R, color: CYAN, shape: CIR, size: 80},
	{left: b680L, right: b680R, color: WINE, shape: TRI, size: 75}
], [
	{left: b350fitL, right: b350fitR, color: BLACK},
	{left: b460fitL, right: b460fitR, color: RED},
	{left: b680fitL, right: b680fitR, color: GREEN}
], {
	labels: legendB, y0: 230, symX: 992, lineX: [970, 1014], textX: 1019,
	items: [{shape: SQ, size: 100, color: PURPLE}, {shape: CIR, size: 100, color: CYAN}, {shape: TRI, size: 90, color: WINE}, {color: BLACK}, {color: RED}, {color: GREEN}]
});
</script>
</body>
</html>
